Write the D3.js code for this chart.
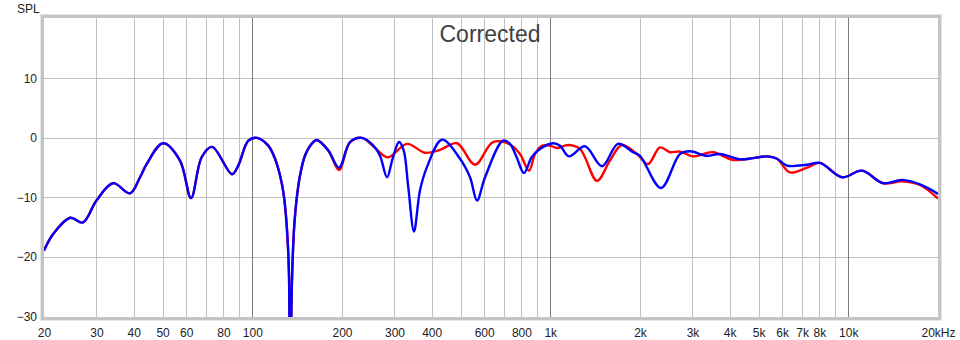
<!DOCTYPE html>
<html>
<head>
<meta charset="utf-8">
<script src="https://cdn.jsdelivr.net/npm/d3@7"></script>
<style>
  body { margin: 0; background: #fff; }
  text { font-family: "Liberation Sans", Arial, sans-serif; }
</style>
</head>
<body>
<svg width="960" height="340"></svg>
<script>
// Frequency response readings (Hz, dB SPL)
var freqBlue = [20, 21.5, 24.5, 27.0, 30.0, 34.1, 38.9, 42.0, 44.2, 50.2, 57.2, 62.3, 67.6, 73.3, 85.5, 89.7, 97,
  103.7, 113.1, 119.2, 123.9, 127.1, 129.4, 131.5, 132.8, 133.8, 135.6, 136.6, 138.3, 140.9, 144.6, 150.2, 158.2,
  164.5, 179.9, 195.4, 212.8, 233.4,
  254.8, 268.3, 283.2, 296, 310.8, 322.1, 333.8, 348.8, 365.4, 385.6, 433, 497.8, 537.8, 567.7, 604,
  694, 732.6, 771, 816, 866, 923, 1021, 1078, 1155, 1307, 1492, 1687, 1895, 2000, 2352, 2724, 2944,
  3356, 3711, 4333, 4789, 5337, 5765, 6228, 7268, 8036, 9526, 11118, 13078, 15142, 17404, 20000];
var splBlue = [-18.9, -16.1, -13.4, -14.2, -10.5, -7.6, -9.3, -6.6, -4.4, -0.9, -3.8, -10.1, -3.25, -1.5, -6.1, -4.65, -0.45,
  0.0, -1.3, -3.5, -6.3, -9.1, -12.5, -17.5, -23.1, -45, -25.9, -20.3, -14.7, -10.2, -6.3, -3.0, -1.0,
  -0.35, -2.1, -5.0, -0.7, 0.0,
  -1.3, -3.0, -6.6, -3.4, -0.7, -2.1, -8.3, -15.7, -8.8, -4.9, -0.3, -3.5, -6.6, -10.5, -6.6,
  -0.45, -1.0, -3.25, -5.9, -3.25, -1.85, -0.9, -1.3, -3.1, -1.4, -4.75, -1.0, -2.4, -3.0, -8.4, -2.7, -2.25,
  -3.0, -2.7, -3.6, -3.4, -3.1, -3.5, -4.65, -4.5, -4.2, -6.6, -5.5, -7.6, -7.05, -7.8, -9.4];

var freqRed = [20, 21.5, 24.5, 27.0, 30.0, 34.1, 38.9, 42.0, 44.2, 50.2, 57.2, 62.3, 67.6, 73.3, 85.5, 89.7, 97,
  103.7, 113.1, 119.2, 123.9, 127.1, 129.4, 131.5, 132.8, 133.8, 135.6, 136.6, 138.3, 140.9, 144.6, 150.2, 158.2,
  164.5, 179.9, 195.4, 212.8, 233.4,
  254.8, 285, 330.6, 379.8, 426.4, 486.3, 559, 642.2, 732.6, 791, 848.4, 889, 938, 997.8, 1053, 1147, 1258,
  1307, 1435, 1586, 1740, 1954, 2128, 2334, 2522, 2724, 3013, 3516, 4104, 4789, 5337, 5765, 6374, 7268,
  8036, 9526, 11118, 13078, 15142, 17404, 20000];
var splRed = [-18.9, -16.1, -13.4, -14.2, -10.5, -7.6, -9.3, -6.6, -4.4, -0.9, -3.8, -10.1, -3.25, -1.5, -6.1, -4.65, -0.45,
  0.0, -1.3, -3.5, -6.3, -9.1, -12.5, -17.5, -23.1, -45, -25.9, -20.3, -14.7, -10.2, -6.3, -3.0, -1.0,
  -0.35, -2.1, -5.4, -0.7, 0.0,
  -1.4, -3.25, -1.0, -2.5, -2.0, -0.9, -4.5, -0.7, -1.1, -2.7, -5.5, -2.7, -1.3, -1.3, -1.7, -1.2, -1.85,
  -3.25, -7.2, -3.8, -1.2, -2.7, -4.4, -1.6, -2.4, -2.3, -3.1, -2.4, -3.7, -3.4, -3.1, -3.5, -5.8, -5.0,
  -4.2, -6.6, -5.5, -7.6, -7.3, -7.9, -10.2];

var tickFreqs = [20, 30, 40, 50, 60, 80, 100, 200, 300, 400, 600, 800, 1000, 2000, 3000, 4000, 5000, 6000, 7000, 8000, 10000, 20000];
var tickLabels = ["20", "30", "40", "50", "60", "80", "100", "200", "300", "400", "600", "800", "1k", "2k", "3k", "4k", "5k", "6k", "7k", "8k", "10k", "20kHz"];
var gridMinor = [30, 40, 50, 60, 70, 80, 90, 200, 300, 400, 500, 600, 700, 800, 900, 2000, 3000, 4000, 5000, 6000, 7000, 8000, 9000];
var gridMajor = [100, 1000, 10000];
var splTicks = [-30, -20, -10, 0, 10];

var svg = d3.select("svg");

var x = d3.scaleLog()
    .domain([20, 20000])
    .range([44, 938]);

var y = d3.scaleLinear()
    .domain([-30, 20])
    .range([316.7, 18.7]);

svg.append("defs").append("clipPath")
    .attr("id", "plot")
  .append("rect")
    .attr("x", 44).attr("y", 18)
    .attr("width", 894).attr("height", 299);

// grid
svg.selectAll(".hgrid")
    .data(splTicks.slice(1))
  .enter().append("line")
    .attr("x1", 44).attr("x2", 938)
    .attr("y1", function(d) { return Math.round(y(d)) + 0.5; })
    .attr("y2", function(d) { return Math.round(y(d)) + 0.5; })
    .attr("stroke", "#c0c0c0");

svg.selectAll(".vgrid")
    .data(gridMinor)
  .enter().append("line")
    .attr("x1", function(d) { return Math.round(x(d)) + 0.5; })
    .attr("x2", function(d) { return Math.round(x(d)) + 0.5; })
    .attr("y1", 18).attr("y2", 317)
    .attr("stroke", "#c0c0c0");

svg.selectAll(".vmajor")
    .data(gridMajor)
  .enter().append("line")
    .attr("x1", function(d) { return Math.round(x(d)) + 0.5; })
    .attr("x2", function(d) { return Math.round(x(d)) + 0.5; })
    .attr("y1", 18).attr("y2", 317)
    .attr("stroke", "#7a7a7a");

// title
svg.append("text")
    .attr("x", 490).attr("y", 42)
    .attr("text-anchor", "middle")
    .attr("font-size", 23)
    .attr("fill", "#404040")
    .text("Corrected");

// curves
var line = d3.line()
    .x(function(d) { return x(d[0]); })
    .y(function(d) { return y(d[1]); })
    .curve(d3.curveCatmullRom.alpha(0.5));

var curves = svg.append("g").attr("clip-path", "url(#plot)");

curves.append("path")
    .datum(d3.zip(freqRed, splRed))
    .attr("d", line)
    .attr("fill", "none")
    .attr("stroke", "#ff0000")
    .attr("stroke-width", 2.4);

curves.append("path")
    .datum(d3.zip(freqBlue, splBlue))
    .attr("d", line)
    .attr("fill", "none")
    .attr("stroke", "#0000ff")
    .attr("stroke-width", 2.4);

// frame
svg.append("rect")
    .attr("x", 42.5).attr("y", 16.5)
    .attr("width", 897).attr("height", 302)
    .attr("fill", "none")
    .attr("stroke", "#c4c4c4")
    .attr("stroke-width", 3);
svg.append("rect")
    .attr("x", 40.5).attr("y", 14.5)
    .attr("width", 901).attr("height", 306)
    .attr("fill", "none")
    .attr("stroke", "#e6e6e6")
    .attr("stroke-width", 1);

// axes
var xAxis = d3.axisBottom(x)
    .tickValues(tickFreqs)
    .tickFormat(function(d, i) { return tickLabels[i]; })
    .tickSize(0)
    .tickPadding(8);

svg.append("g")
    .attr("transform", "translate(0,320)")
    .call(xAxis)
    .call(function(g) { g.select(".domain").remove(); })
    .selectAll("text")
    .attr("font-size", 12)
    .attr("font-family", "Liberation Sans, Arial, sans-serif")
    .attr("fill", "#222");

var yAxis = d3.axisLeft(y)
    .tickValues(splTicks)
    .tickSize(0)
    .tickPadding(7);

svg.append("g")
    .attr("transform", "translate(44,0)")
    .call(yAxis)
    .call(function(g) { g.select(".domain").remove(); })
    .selectAll("text")
    .attr("font-size", 12)
    .attr("font-family", "Liberation Sans, Arial, sans-serif")
    .attr("fill", "#222");

svg.append("text")
    .attr("x", 17).attr("y", 13)
    .attr("font-size", 12)
    .attr("fill", "#222")
    .text("SPL");
</script>
</body>
</html>
